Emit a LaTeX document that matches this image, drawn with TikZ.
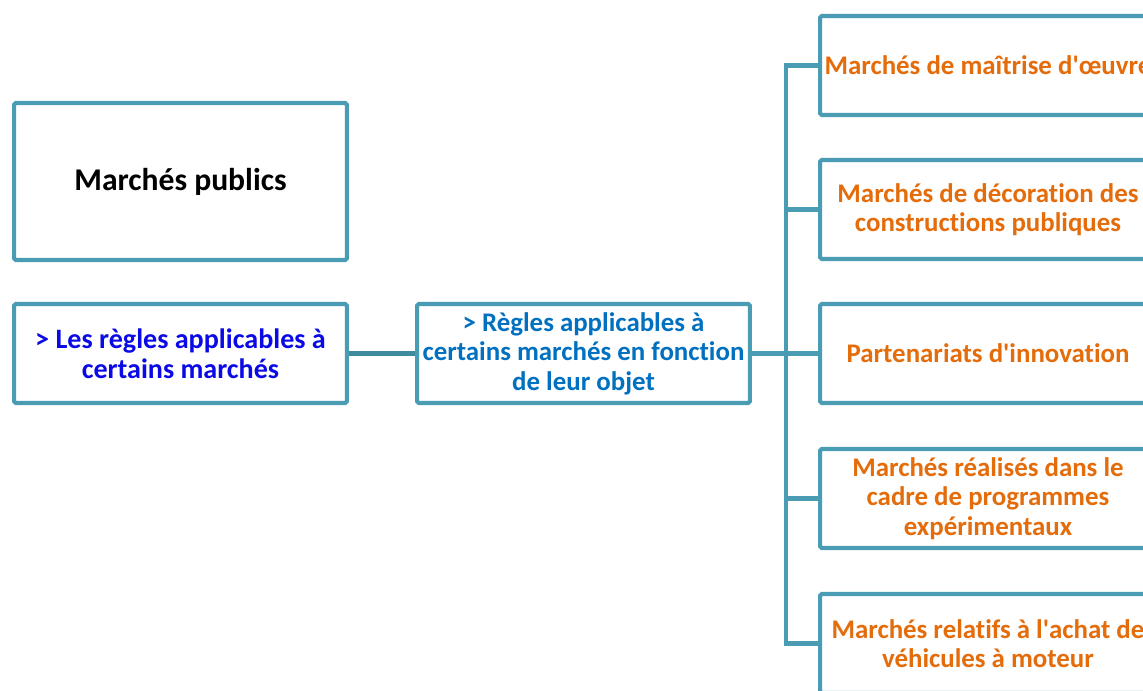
\documentclass[tikz,border=0pt]{standalone}
\usepackage{fontspec}
\setmainfont{Carlito}[Ligatures={TeX,NoCommon}]
\usetikzlibrary{positioning}

\definecolor{cadre}{RGB}{74,156,181}
\definecolor{lien}{RGB}{62,138,158}
\definecolor{bleuvif}{RGB}{10,10,230}
\definecolor{bleuobjet}{RGB}{0,112,192}
\definecolor{orangeobjet}{RGB}{228,108,10}

\begin{document}
\begin{tikzpicture}[
        x=0.02cm, y=-0.02cm,
        boite/.style={draw=cadre, line width=2.3pt, fill=white, rounded corners=1pt,
            align=center, inner sep=2pt, minimum height=1.98cm,
            font=\bfseries\fontsize{15.3}{16.8}\selectfont},
        titre/.style={boite, minimum width=6.66cm, minimum height=3.14cm,
            font=\bfseries\fontsize{18}{21}\selectfont},
        regle/.style={boite, minimum width=6.66cm},
        objet/.style={boite, minimum width=6.72cm, text=orangeobjet},
        trait/.style={draw=cadre, line width=2.3pt, line join=miter}
    ]
    \clip (0,0) rectangle (1143,690);
    \node[titre] (publics) at (180.5,181.5) {Marchés publics};
    \node[regle, text=bleuvif, font=\bfseries\fontsize{16}{17}\selectfont] (certains) at (180.5,353.5) {> Les règles applicables à\\certains marchés};
    \node[regle, text=bleuobjet] (fonction) at (583.5,353.5) {> Règles applicables à\\certains marchés en fonction\\de leur objet};
    \node[objet] (oeuvre) at (988,65.5) {Marchés de maîtrise d\textquotesingle œuvre};
    \node[objet] (decoration) at (988,209.5) {Marchés de décoration des\\constructions publiques};
    \node[objet] (innovation) at (988,353.5) {Partenariats d\textquotesingle innovation};
    \node[objet] (experimentaux) at (988,498.5) {Marchés réalisés dans le\\cadre de programmes\\expérimentaux};
    \node[objet] (vehicules) at (988,643.5) {Marchés relatifs à l\textquotesingle achat de\\véhicules à moteur};
    \coordinate (tronc) at (786,0);
    % liaisons
    \draw[trait, draw=lien] (certains.east) -- (fonction.west);
    \draw[trait] (fonction.east) -- (fonction.east -| tronc);
    \draw[trait] (oeuvre.west) -- (tronc |- oeuvre.west) -- (tronc |- vehicules.west) -- (vehicules.west);
    \draw[trait] (tronc |- decoration.west) -- (decoration.west);
    \draw[trait] (tronc |- innovation.west) -- (innovation.west);
    \draw[trait] (tronc |- experimentaux.west) -- (experimentaux.west);
\end{tikzpicture}
\end{document}
